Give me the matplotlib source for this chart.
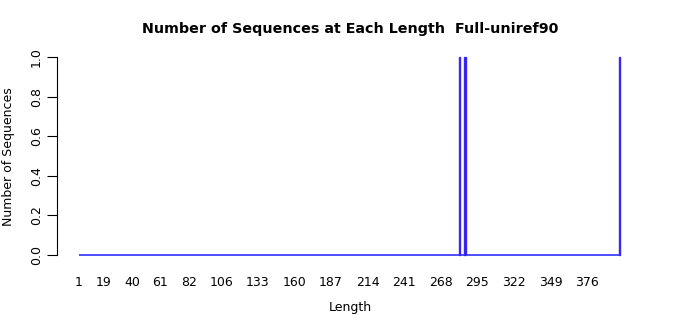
import matplotlib
matplotlib.use("Agg")
import matplotlib.pyplot as plt

# Data
lengths_nonzero = [282, 286, 400]
counts_nonzero = [1, 1, 1]
min_length = 1
max_length = 400
xtick_labels = [1, 19, 40, 61, 82, 106, 133, 160, 187, 214, 241, 268, 295, 322, 349, 376]
yticks = [0.0, 0.2, 0.4, 0.6, 0.8, 1.0]

title = "Number of Sequences at Each Length  Full-uniref90"

W, H = 700, 315
fig = plt.figure(figsize=(W / 100, H / 100), dpi=100)

# pixel mapping
px_per_unit = (587 - 79) / 375.0
x_left_px, x_right_px = 57, 640
y0_px, y1_px = 255, 57
xmin = min_length - (79 - x_left_px) / px_per_unit
xmax = min_length + (x_right_px - 79) / px_per_unit
ypix_per_unit = (y0_px - y1_px)
bottom_px, top_px = 263, 49
ymin = -(bottom_px - y0_px) / ypix_per_unit
ymax = 1 + (y1_px - top_px) / ypix_per_unit

ax = fig.add_axes([x_left_px / W, 1 - bottom_px / H,
                   (x_right_px - x_left_px) / W, (bottom_px - top_px) / H])
ax.set_xlim(xmin, xmax)
ax.set_ylim(ymin, ymax)

# baseline for zero-height bars
ax.hlines(0, min_length, max_length, colors="#3030ff", linewidth=1.2, zorder=2)
ax.bar(lengths_nonzero, counts_nonzero, width=1.2, facecolor="#5010c0",
       edgecolor="#3a28f0", linewidth=1.0, zorder=3)

for s in ["top", "right", "bottom"]:
    ax.spines[s].set_visible(False)
ax.spines["left"].set_bounds(0, 1)
ax.spines["left"].set_linewidth(0.8)

ax.set_yticks(yticks)
ax.set_yticklabels([f"{v:.1f}" for v in yticks], rotation=90, va="center", fontsize=9)
ax.tick_params(axis="y", length=7, width=0.8, pad=3)

ax.set_xticks(xtick_labels)
ax.set_xticklabels([str(v) for v in xtick_labels], fontsize=9)
ax.tick_params(axis="x", length=0, pad=9)

fig.text(350 / W, 1 - 307 / H, "Length", ha="center", va="center", fontsize=9)
fig.text(9 / W, 1 - 157 / H, "Number of Sequences", ha="center", va="center",
         rotation=90, fontsize=9)

fig.text(350 / W, 1 - 29 / H, title, ha="center", va="center",
         fontsize=10.25, fontweight="bold")

fig.savefig("out.png", dpi=100)
